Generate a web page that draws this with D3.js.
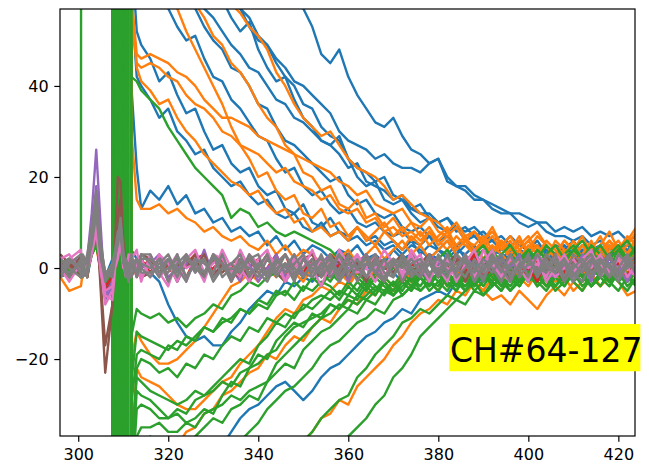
<!DOCTYPE html>
<html>
<head>
<meta charset="utf-8">
<script src="https://cdn.jsdelivr.net/npm/d3@7"></script>
<style>
  body { margin: 0; background: #fff; }
  text { font-family: "DejaVu Sans", sans-serif; }
</style>
</head>
<body>
<svg id="chart" width="649" height="464"></svg>
<script>

// sample times (ms), denser around the stimulus artifact
var timeMs = [296,298,300.6,301,302,303,304,305,306,307.6,
  308.2,308.8,309.4,310,310.6,311.2,311.8,313,314,
  316,318,320,322,324,326,328,330,332,334,
  336,338,340,342,344,346,348,350,352,354,
  356,358,360,362,364,366,368,370,372,374,
  376,378,380,382,384,386,388,390,392,394,
  396,398,400,402,404,406,408,410,412,414,
  416,418,420,422,424];

var xTicks = [300, 320, 340, 360, 380, 400, 420];
var yTicks = [-20, 0, 20, 40];
var channelLabel = 'CH#64-127';

var blueTraces = [
  [1,-1,2,0,1,4,7,1,-3,-1, -600,500,-700,800,-500,600, 110,108,104,
   100,98,95,93,90,88,84,82,79,77, 74,72,68,66,63,61,58,57,53,47, 45,48,42,38,35,32,31,33,29,26, 25,23,24,19,18,18,16,15,14,13, 12,12,11,10,10,8,9,8,9,7, 8,7,8,6,7],
  [-1,2,0,1,-2,3,6,0,-4,1, 700,-800,600,-500,900,-700, 92,90,88,
   85,82,80,77,75,71,69,66,64,60, 57,55,51,49,46,44,41,40,38,36, 34,30,28,27,26,24,25,23,22,22, 21,23,24,20,18,17,15,15,13,12, 12,10,9,10,8,7,7,6,7,5, 6,4,5,4,5],
  [2,0,-2,1,0,5,9,2,-2,0, -300,900,-400,500,-800,300, 82,80,78,
   75,72,70,66,64,61,57,55,52,49, 47,44,43,40,37,36,33,32,30,28, 27,25,22,23,19,18,17,15,16,13, 12,12,10,11,9,8,9,7,6,7, 5,6,4,5,3,5,4,3,5,4, 3,5,3,4,2],
  [0,1,-1,-2,1,4,8,-1,-5,-2, 400,-300,800,-900,350,-600, 72,70,68,
   66,64,61,62,58,57,53,50,48,44, 43,40,36,35,31,28,27,25,23,21, 19,20,16,14,15,12,11,12,9,8, 9,7,6,7,5,6,4,5,3,4, 5,3,4,2,4,3,5,2,3,4, 2,3,4,2,3],
  [-2,-1,1,2,0,3,5,1,-2,1, -900,250,-600,700,-250,800, 68,66,64,
   62,58,57,53,50,51,46,42,41,37, 35,32,29,28,24,21,22,18,16,17, 14,12,13,10,9,10,8,7,8,6, 5,7,4,6,3,5,4,2,4,3, 2,4,3,1,3,2,4,1,3,2, 4,2,1,3,2],
  [1,2,-1,0,2,4,6,0,-3,0, 300,-700,200,-800,600,-400, 60,42,40,
   37,33,35,30,28,25,26,22,20,18, 19,16,14,15,12,11,12,9,8,10, 7,8,6,7,5,6,4,5,3,5, 4,2,4,3,5,2,3,1,3,2, 4,1,3,2,0,2,3,1,2,0, 3,1,2,0,2],
  [0,-2,1,1,-1,5,8,2,-3,-1, -450,650,-900,300,-700,500, 92,90,87,
   84,80,78,75,72,70,66,64,61,60, 57,53,50,49,45,42,40,36,35,31, 29,28,24,22,21,19,20,16,15,13, 14,11,10,11,8,9,7,8,6,5, 7,5,4,6,3,5,4,6,3,4, 5,2,4,5,3],
  [-1,1,2,-2,0,3,7,1,-2,2, 800,-450,350,-650,450,-900, 40,22,13,
   17,15,18,14,16,12,13,10,11,8, 9,7,8,5,7,4,6,3,5,4, 2,4,3,5,2,3,1,4,2,3, 1,3,2,0,3,1,2,4,1,2, 0,3,1,2,-1,2,1,3,0,2, 1,-1,2,1,3],
  [2,-1,0,1,-1,4,6,-1,-4,0, -200,400,-500,900,-600,700, 4,2,1,
   -1,-3,-8,-12,-15,-16,-15,-17,-17,-14, -12,-9,-7,-5,-6,-3,-4,-2,-3,-1, -2,0,-3,-1,1,-2,0,-1,-3,0, -1,1,-2,0,-1,-3,1,-1,0,-2, 1,-1,-2,0,2,-1,0,-2,1,-1, 0,-2,1,-1,0],
  [0,1,-2,2,0,3,6,1,-3,-1, 550,-250,750,-350,850,-500, -60,-58,-57,
   -55,-53,-52,-49,-47,-45,-44,-41,-39,-36, -33,-31,-30,-28,-26,-25,-27,-29,-27,-24, -22,-21,-19,-17,-15,-14,-12,-11,-9,-10, -7,-6,-5,-6,-3,-4,-2,-3,-1,-3, -2,0,-2,-1,1,-2,0,-1,1,-2, 0,-1,1,-2,0],
  [1,-1,0,2,-2,4,7,0,-3,1, 650,-300,850,-450,300,-750, 70,52,49,
   46,41,43,38,34,35,30,26,27,23, 21,22,18,16,17,13,12,14,10,9, 11,8,7,9,6,7,5,6,4,6, 3,5,4,2,4,3,5,2,3,1, 3,2,4,1,3,2,0,2,4,1, 3,2,0,2,1],
  [-2,0,1,1,0,3,6,2,-4,0, -350,900,-250,550,-900,450, 95,93,90,
   86,84,80,77,74,71,66,63,59,55, 52,54,48,44,41,42,37,33,31,28, 27,29,24,20,18,19,15,14,15,12, 10,11,9,8,9,6,7,5,6,4, 5,6,3,5,4,2,5,3,4,2, 5,3,4,6,3]
];

var orangeTraces = [
  [1,0,-2,2,1,4,6,0,-2,1, 600,-500,700,-800,500,-600, 60,47,46,
   47,46,45,43,42,40,37,35,33,33, 32,31,29,28,27,26,25,24,23,22, 21,19,18,16,17,14,13,12,13,10, 9,11,8,7,9,6,5,7,4,6, 3,5,7,4,2,5,3,6,2,4, 7,3,5,2,6],
  [-1,2,1,-1,0,3,5,-1,-3,0, -700,800,-600,500,-900,700, 55,45,44,
   45,44,42,41,38,36,35,33,30,29, 27,26,25,23,21,22,19,18,17,15, 16,13,12,13,10,11,8,9,7,8, 6,8,5,7,4,6,8,5,3,6, 4,7,3,5,2,6,4,2,5,3, 1,4,6,3,7],
  [2,-1,1,0,-2,4,8,1,-3,-2, 300,-900,400,-500,800,-300, 88,86,83,
   80,78,75,73,70,68,65,62,61,58, 56,53,51,48,43,40,36,33,31,29, 30,27,24,22,21,20,18,15,16,14, 12,11,10,8,10,7,8,6,9,5, 7,4,6,8,5,3,6,4,7,3, 5,8,4,6,9],
  [0,-2,2,1,-1,3,7,0,-4,1, -400,300,-800,900,-350,600, 78,76,73,
   70,68,65,62,60,58,55,51,49,45, 43,40,36,33,31,27,25,21,20,17, 18,14,13,15,11,12,9,11,8,10, 7,9,6,8,5,7,4,6,3,5, 2,4,1,3,5,2,-1,1,3,0, 2,-1,1,3,0],
  [1,1,-1,2,0,4,6,-1,-2,0, 900,-250,600,-700,250,-800, 30,15,13,
   13,14,12,13,11,10,8,9,7,6, 7,5,4,6,3,5,2,4,3,1, 3,2,4,1,3,5,2,4,6,3, 5,2,4,6,3,1,4,2,5,3, 1,4,6,3,5,2,4,1,3,6, 2,5,3,1,4],
  [-2,0,1,-1,2,5,9,2,-3,-1, -300,700,-200,800,-600,400, 72,70,67,
   64,60,58,57,52,48,44,40,36,31, 27,24,20,21,17,15,16,12,11,13, 9,10,7,9,6,8,10,7,9,6, 8,5,7,9,4,6,3,5,7,4, 6,2,5,3,6,4,1,3,5,2, 4,6,3,5,8],
  [-2,-5,-4,-1,0,3,5,-1,-3,-1, 450,-650,900,-300,700,-500, -20,-14,-16,
   -19,-21,-21,-20,-18,-16,-13,-10,-7,-4, -3,-1,-3,0,-2,1,-1,-3,0,-2, 1,-1,-3,0,2,-2,1,-1,2,-3, 0,2,-1,-4,-2,1,-3,-5,-7,-6, -8,-5,-7,-9,-6,-4,-6,-3,-5,-2, -4,-1,-3,-6,-5],
  [1,-1,0,2,-1,4,7,0,-4,-2, -800,450,-350,650,-450,900, -40,-22,-24,
   -25,-26,-28,-30,-31,-31,-29,-27,-25,-24, -21,-19,-17,-14,-11,-9,-10,-7,-6,-4, -5,-3,-4,-1,-3,0,-2,-4,-1,-3, 0,-2,1,-1,-3,0,-2,1,-1,-3, 0,-2,-4,-1,-3,0,-2,-5,-3,-1, -4,-2,0,-3,-1],
  [0,2,-1,1,0,3,6,1,-2,0, 200,-400,500,-900,600,-700, -70,-68,-66,
   -64,-62,-60,-58,-57,-55,-53,-51,-50,-48, -46,-45,-43,-42,-40,-40,-38,-38,-36,-33, -32,-29,-30,-26,-24,-22,-20,-17,-15,-12, -10,-9,-7,-8,-5,-6,-3,-5,-2,-4, -1,-3,0,-2,-4,-1,-3,0,-2,1, -1,-3,0,-2,1],
  [-1,0,2,-2,1,4,6,0,-3,1, -550,250,-750,350,-850,500, -55,-50,-47,
   -45,-43,-40,-39,-36,-35,-32,-31,-28,-27, -25,-23,-22,-19,-20,-17,-15,-16,-13,-11, -12,-9,-7,-8,-5,-6,-3,-5,-2,-4, -1,-3,-5,-2,0,-3,-1,1,-2,0, -3,-1,1,-2,0,-3,-1,2,-1,1, -2,0,2,-1,1],
  [0,1,-1,2,1,5,8,0,-2,-1, 750,-550,250,-950,400,-250, 60,44,41,
   39,36,37,33,30,28,25,23,21,19, 18,16,17,14,12,13,10,11,8,9, 7,8,6,9,7,5,8,6,4,7, 5,8,6,4,7,5,3,6,8,5, 3,6,4,7,5,3,6,4,2,5, 3,6,4,7,5]
];

var greenTraces = [
  [1,-2,0,900,900,900,900,900,900,900, -700,800,-900,600,-800,700, 42,41,39,
   37,35,31,28,25,22,20,18,16,11, 13,12,9,10,8,7,8,7,6,5, 4,2,3,1,2,0,2,-1,1,3, 0,2,-1,1,3,0,2,4,1,3, 5,2,4,1,3,5,2,4,6,3, 5,2,4,6,3],
  [0,1,-1,2,-1,3,5,1,-3,0, 600,-500,700,-800,500,-600, -15,-9,-10,
   -11,-10,-12,-11,-13,-11,-10,-8,-9,-6, -5,-3,-4,-2,-1,-3,0,-2,1,-1, -3,0,2,-1,-3,1,-2,0,3,-1, 1,-2,2,4,1,-1,3,5,2,0, 3,1,4,2,5,3,1,4,2,5, 3,0,4,2,5],
  [-1,2,0,-2,1,4,6,0,-2,1, -700,800,-600,500,-900,700, -25,-14,-15,
   -16,-17,-18,-16,-17,-15,-13,-14,-12,-11, -9,-10,-8,-9,-6,-5,-7,-4,-5,-3, -4,-6,-3,-5,-2,-4,-6,-3,-5,-2, -4,-1,-3,-5,-2,-4,-1,-3,0,-2, -4,-1,-3,0,-2,-4,-1,-3,-5,-2, -4,-1,-3,-5,-2],
  [2,0,1,-1,0,3,6,-1,-3,-2, 300,-900,400,-500,800,-300, -40,-24,-25,
   -27,-28,-29,-30,-29,-27,-28,-26,-24,-22, -20,-21,-17,-15,-12,-13,-10,-9,-7,-6, -7,-5,-6,-3,-5,-2,-4,-6,-3,-5, -2,-4,-1,-3,-5,-2,-4,-1,-3,-5, -2,-4,-1,-3,0,-2,-4,-1,-3,0, -2,-4,-1,-3,0],
  [0,-1,2,1,-2,4,7,1,-4,0, -400,300,-800,900,-350,600, -50,-31,-30,
   -31,-33,-33,-31,-32,-29,-28,-27,-25,-26, -23,-22,-21,-19,-18,-15,-13,-12,-11,-10, -8,-9,-7,-8,-6,-4,-5,-3,-6,-4, -2,-5,-3,-1,-4,-2,-5,-3,-1,-4, -2,0,-3,-1,-4,-2,0,-3,-1,-4, -2,0,-3,-1,-4],
  [1,2,-2,0,1,3,5,0,-2,-1, 900,-250,600,-700,250,-800, -60,-37,-35,
   -35,-34,-36,-36,-34,-35,-32,-31,-30,-28, -29,-27,-26,-25,-21,-19,-17,-15,-13,-11, -10,-8,-9,-6,-7,-5,-3,-6,-4,-2, -5,-3,-1,-4,-2,-5,-3,-1,-4,-2, 0,-3,-1,-4,-2,0,-3,-1,-4,-2, 0,-3,-1,-4,-2],
  [-2,1,0,2,0,4,8,2,-3,0, -300,700,-200,800,-600,400, -80,-78,-75,
   -72,-70,-67,-63,-60,-56,-53,-49,-45,-42, -38,-36,-34,-31,-29,-27,-26,-24,-22,-19, -17,-16,-14,-12,-11,-9,-10,-7,-6,-4, -5,-3,-4,-1,-3,-5,-2,-4,-1,-3, -5,-2,0,-3,-1,-4,-2,1,-2,-4, -1,-3,0,-2,-4],
  [1,-1,1,-1,2,3,6,-1,-3,1, 450,-650,900,-300,700,-500, -95,-93,-90,
   -88,-85,-82,-79,-76,-73,-70,-67,-64,-61, -58,-55,-52,-50,-47,-44,-41,-38,-36,-33, -31,-29,-28,-24,-22,-19,-17,-15,-12,-11, -9,-10,-8,-6,-7,-5,-3,-6,-4,-2, -5,-3,-1,-4,-2,-5,-3,0,-2,-4, -1,-3,-5,-2,0],
  [0,2,-1,1,-1,5,7,1,-2,-1, -800,450,-350,650,-450,900, -110,-108,-105,
   -102,-99,-96,-92,-89,-86,-82,-79,-76,-72, -69,-66,-62,-59,-56,-53,-50,-47,-44,-42, -40,-38,-37,-35,-33,-30,-28,-24,-22,-19, -15,-13,-11,-9,-7,-8,-5,-6,-3,-5, -2,-4,-1,-3,-5,-2,0,-3,-1,-4, -2,0,-3,-1,-2],
  [-1,0,1,2,-1,3,6,0,-4,-1, 200,-400,500,-900,600,-700, -45,-22,-20,
   -21,-23,-22,-24,-21,-22,-19,-20,-17,-15, -16,-13,-14,-11,-12,-10,-11,-8,-9,-7, -5,-7,-4,-6,-3,-5,-2,-4,-1,-3, 0,-2,1,-1,-3,0,2,-1,1,-2, 0,2,-1,1,3,0,2,-1,1,3, 0,2,4,1,3],
  [1,0,-1,2,0,4,6,-1,-3,1, -650,350,-850,250,-550,850, -45,-27,-28,
   -29,-31,-33,-32,-34,-33,-31,-32,-28,-25, -26,-22,-19,-20,-16,-14,-12,-13,-10,-11, -8,-9,-6,-7,-4,-6,-3,-5,-2,-4, -1,-3,-5,-2,-4,-1,-3,0,-2,-4, -1,-3,0,-2,-4,-1,-3,0,-2,-4, -1,-3,0,-2,-4],
  [-1,2,1,-2,1,3,7,1,-2,0, 850,-350,450,-750,950,-450, -70,-40,-38,
   -37,-39,-41,-40,-38,-37,-35,-33,-34,-31, -30,-28,-29,-25,-23,-21,-22,-18,-16,-14, -13,-11,-9,-10,-7,-8,-5,-6,-3,-5, -2,-4,-1,-3,-5,-2,-4,-1,-3,0, -2,-4,-1,-3,0,-2,-4,-1,-3,0, -2,-4,-1,-3,-1],
  [2,-1,0,1,-1,5,6,0,-4,-1, -250,650,-450,850,-300,550, -30,-19,-18,
   -19,-20,-17,-18,-15,-16,-13,-14,-11,-12, -9,-10,-7,-8,-5,-6,-3,-5,-2,-4, -1,-3,0,-2,-4,-1,-3,1,-2,-4, -1,2,-2,0,3,1,-1,2,4,1, -1,3,1,4,2,0,3,5,2,4, 1,3,5,2,4]
];

var redTraces = [
  [1,0,2,-1,1,7,14,3,-4,-2,2,5,9,3,0,2,-1,1,2,
   -1,2,0,-2,1,3,-1,0,2,-3, 1,2,-1,0,3,-2,1,-1,2,0, -2,1,3,-1,0,2,-2,1,0,3, -1,-2,2,0,1,-1,3,-2,0,1, 2,-1,0,-3,2,1,-1,2,0,-2, 1,3,-1,0,2],
  [-1,1,0,2,-2,6,11,2,-5,-3,0,4,7,2,1,-1,2,-2,0,
   2,-1,1,0,-2,2,3,-1,0,1, -2,0,2,-1,1,3,-2,0,1,-1, 2,0,-2,1,3,-1,0,2,-3,1, 0,2,-1,1,-2,0,3,-1,2,0, -1,1,-2,2,0,3,-1,-2,1,0, 2,-1,1,-2,3]
];

var purpleTraces = [
  [0,2,-1,1,2,12,26,9,-7,-4,2,5,8,2,-1,1,-2,2,0,
   1,3,-2,0,2,-1,4,-2,1,0, -3,2,1,-1,3,-2,0,2,-1,1, 3,-2,0,1,-3,2,1,-1,2,0, -2,3,1,-1,0,2,-3,1,2,-1, 0,3,-2,1,-1,2,0,-2,3,1, -1,2,0,-3,1],
  [-2,1,2,-1,1,8,18,4,-6,-3,1,4,7,1,2,-1,0,1,-2,
   -1,0,2,-3,1,2,-2,3,0,-1, 2,1,-3,0,2,-1,3,-2,1,0, -1,2,-3,1,3,0,-2,1,-1,2, 0,-3,2,1,-1,3,0,-2,1,2, -2,1,0,3,-1,-2,2,0,1,-3, 2,0,-1,2,-2]
];

var brownTraces = [
  [3,1,-2,2,1,6,12,-5,-23,-8,6,20,19,6,1,-1,2,0,-2,
   -1,2,-3,1,0,3,-2,2,-1,1, 2,-3,0,3,-1,1,-2,2,3,-1, 0,-2,2,1,-3,3,0,-1,2,-2, 1,3,-1,0,2,-3,1,2,-1,0, 3,-2,1,-1,2,0,-3,2,1,-1, 2,-2,0,3,-1],
  [1,-2,3,0,2,5,10,-3,-17,-8,3,11,15,4,-1,2,-2,1,3,
   2,-1,1,-3,2,0,3,-2,1,-1, -2,2,0,3,-1,-3,1,2,0,-2, 3,1,-2,0,2,-1,-3,1,3,0, -1,2,-2,1,3,-1,0,-2,2,1, -3,1,2,0,-1,3,-2,1,0,2, -1,3,-2,1,0]
];

var pinkTraces = [
  [2,3,-1,1,0,4,10,0,-8,-5,1,3,5,1,-2,2,3,-1,2,
   -2,3,1,-3,2,4,-1,1,3,-2, 4,0,-2,3,1,-3,2,0,4,-1, 2,-3,1,3,-2,0,4,1,-2,3, -1,2,0,-3,3,1,-2,4,0,-1, 3,-2,1,2,-3,0,3,-1,2,4, -2,1,0,3,-1],
  [0,-3,1,2,-1,3,8,-1,-6,-7,0,2,6,2,-1,3,-1,1,-3,
   3,-1,-4,2,0,1,-3,3,2,-1, 0,-3,2,4,-1,1,-2,3,0,-4, 1,2,-1,3,0,-3,1,2,-2,4, 1,-3,2,0,-1,3,-2,1,4,-1, -3,2,0,1,-2,3,1,-3,2,0, 3,-1,2,-2,1],
  [-1,2,4,-2,1,5,9,1,-5,-4,2,4,6,0,1,-1,2,4,-2,
   1,-2,0,3,-3,2,1,-1,4,0, -2,3,1,-1,2,-3,0,3,-1,2, -2,4,1,-1,0,3,-2,2,-1,1, 3,-2,0,2,-3,1,4,-1,1,-2, 2,0,-3,3,1,-2,0,2,-1,3, 1,-2,3,0,-2]
];

var grayTraces = [
  [1,-2,2,-1,3,9,15,6,-2,-1,4,8,9,3,1,-2,2,-1,3,
   1,-2,2,0,-3,2,1,-1,3,-2, 0,2,-1,-3,1,3,-1,0,2,-2, 1,-1,3,0,-2,2,-3,1,0,2, -1,3,-2,1,0,-2,2,-1,3,0, -3,1,2,-1,0,3,-2,1,-1,2, 0,-2,3,1,-1],
  [-1,2,0,1,-2,7,13,3,-3,0,3,7,10,2,-1,1,-2,2,0,
   -2,1,3,-1,2,0,-2,3,1,-2, 2,-1,0,3,-2,1,-3,2,0,-1, 3,-2,1,0,2,-1,-3,2,1,-2, 0,2,-1,3,-2,0,1,-3,2,1, -1,0,3,-2,2,-1,1,-3,0,2, -2,3,-1,0,2],
  [2,0,-2,3,1,8,17,5,-1,-2,2,6,11,4,0,-3,1,-1,3,
   3,-1,0,2,-2,1,-1,3,-2,0, -1,2,3,-2,0,1,-2,2,-1,3, -2,0,2,-3,1,3,-1,-2,2,0, 1,-2,3,-1,1,2,-3,0,2,-1, 3,-2,1,0,-1,2,-2,3,1,-2, 2,0,-3,1,3],
  [-2,1,3,0,2,5,12,2,-2,1,4,6,8,1,2,0,3,-2,1,
   0,2,-3,1,3,-1,2,-2,0,1, 3,-2,1,-1,2,0,3,-1,-2,1, 0,3,-1,2,-2,1,0,2,-3,1, 2,-1,0,-2,3,1,-1,2,0,-3, 1,2,-2,3,0,-1,2,-2,1,3, -1,1,-2,2,-1],
  [0,-1,1,2,1,6,14,4,-1,0,3,5,9,2,-2,1,0,-1,2,
   2,0,-1,3,-2,1,2,-3,0,1, -1,3,0,-2,2,-1,1,3,-2,0, 2,-3,1,0,3,-1,-2,1,2,-1, 0,1,-2,3,-1,2,0,-2,1,3, -2,0,2,-1,3,1,-3,0,2,-1, 1,3,-2,0,2],
  [1,2,-1,-2,0,7,16,3,-2,1,2,7,10,3,0,-1,1,2,-1,
   -1,0,2,-2,3,0,-1,2,1,-3, 1,0,-2,2,-1,3,0,-2,1,2, -1,3,-2,0,1,-1,2,-2,3,0, -2,1,2,-1,0,3,-3,1,-1,2, 0,-1,3,-2,1,0,2,-1,-3,1, 2,-2,0,3,-1]
];

// matplotlib tab10, in plotting order
var traceGroups = [
  {color: '#1f77b4', traces: blueTraces},
  {color: '#ff7f0e', traces: orangeTraces},
  {color: '#2ca02c', traces: greenTraces},
  {color: '#d62728', traces: redTraces},
  {color: '#9467bd', traces: purpleTraces},
  {color: '#8c564b', traces: brownTraces},
  {color: '#e377c2', traces: pinkTraces},
  {color: '#7f7f7f', traces: grayTraces}
];

function drawChart() {
  var plotLeft = 60, plotTop = 9, plotRight = 635, plotBottom = 436;

  var x = d3.scaleLinear().domain([295.95, 423.7]).range([plotLeft, plotRight]);
  var y = d3.scaleLinear().domain([-36.9, 56.9]).range([plotBottom, plotTop]);

  var svg = d3.select('#chart');

  svg.append('defs')
    .append('clipPath')
      .attr('id', 'plot-clip')
      .append('rect')
        .attr('x', plotLeft)
        .attr('y', plotTop)
        .attr('width', plotRight - plotLeft)
        .attr('height', plotBottom - plotTop);

  var line = d3.line()
    .defined(function(d, i) { return i < timeMs.length; })
    .x(function(d, i) { return x(timeMs[i]); })
    .y(function(d) { return y(d); });

  var plot = svg.append('g').attr('clip-path', 'url(#plot-clip)');

  traceGroups.forEach(function(group) {
    for (var i = 0; i < group.traces.length; i++) {
      if (group.traces[i].length != timeMs.length)
        console.warn('trace length', group.color, i, group.traces[i].length);
      plot.append('path')
        .attr('d', line(group.traces[i]))
        .attr('fill', 'none')
        .attr('stroke', group.color)
        .attr('stroke-width', 2.4)
        .attr('stroke-linejoin', 'round')
        .attr('stroke-linecap', 'butt');
    }
  });

  function fmt(d) {
    return d < 0 ? '\u2212' + Math.abs(d) : String(d);
  }

  var xAxis = svg.append('g')
    .attr('transform', 'translate(0,' + plotBottom + ')')
    .call(d3.axisBottom(x).tickValues(xTicks).tickFormat(fmt).tickSize(5.7).tickPadding(7));

  var yAxis = svg.append('g')
    .attr('transform', 'translate(' + plotLeft + ',0)')
    .call(d3.axisLeft(y).tickValues(yTicks).tickFormat(fmt).tickSize(5.7).tickPadding(5.7));

  [xAxis, yAxis].forEach(function(ax) {
    ax.select('.domain').remove();
    ax.selectAll('.tick line').attr('stroke', '#000').attr('stroke-width', 1.2);
    ax.selectAll('.tick text')
      .attr('fill', '#000')
      .style('font-family', '"DejaVu Sans", sans-serif')
      .style('font-size', '16px');
  });

  // axes frame
  svg.append('rect')
    .attr('x', plotLeft)
    .attr('y', plotTop)
    .attr('width', plotRight - plotLeft)
    .attr('height', plotBottom - plotTop)
    .attr('fill', 'none')
    .attr('stroke', '#000')
    .attr('stroke-width', 1.2);

  // channel range label with yellow background
  var labelBg = svg.append('rect').attr('fill', '#ffff00');
  var label = svg.append('text')
    .attr('x', x(382.6))
    .attr('y', y(-20.55))
    .attr('fill', '#000')
    .style('font-family', '"DejaVu Sans", sans-serif')
    .style('font-size', '33px')
    .text(channelLabel);

  var bb = label.node().getBBox();
  labelBg
    .attr('x', bb.x - 0.7)
    .attr('y', bb.y - 6.6)
    .attr('width', bb.width - 1.3)
    .attr('height', bb.height + 8.3);
}

drawChart();

</script>
</body>
</html>
